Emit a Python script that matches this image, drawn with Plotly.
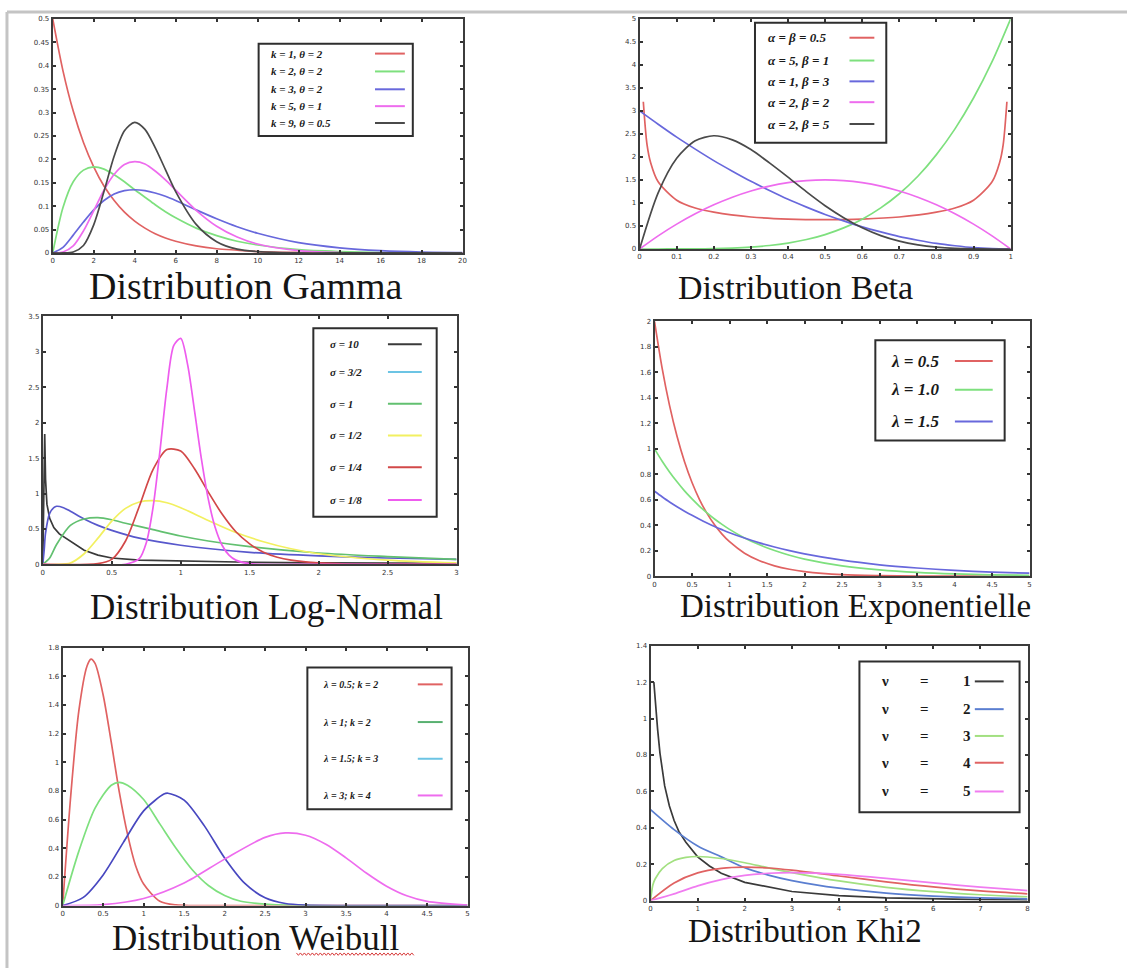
import plotly.graph_objects as go

W, H = 1131, 975

# ---------------- Gamma ----------------
gamma_x = [0, 0.5, 1, 1.5, 2, 2.5, 3, 3.5, 4, 4.5, 5, 5.5, 6, 7, 8, 9, 10, 12, 14, 16, 18, 20]
gamma_k1_t2 = [0.5, 0.389, 0.303, 0.236, 0.184, 0.143, 0.112, 0.087, 0.068, 0.053, 0.041, 0.032, 0.025, 0.015, 0.009, 0.006, 0.003, 0.001, 0, 0, 0, 0]
gamma_k2_t2 = [0, 0.097, 0.152, 0.177, 0.184, 0.179, 0.167, 0.152, 0.135, 0.119, 0.103, 0.088, 0.075, 0.053, 0.037, 0.025, 0.017, 0.007, 0.003, 0.001, 0, 0]
gamma_k3_t2 = [0, 0.012, 0.038, 0.066, 0.092, 0.112, 0.126, 0.133, 0.135, 0.133, 0.128, 0.121, 0.112, 0.092, 0.073, 0.056, 0.042, 0.022, 0.011, 0.005, 0.002, 0.001]
gamma_k5_t1 = [0, 0.002, 0.015, 0.047, 0.090, 0.134, 0.168, 0.189, 0.195, 0.190, 0.175, 0.156, 0.134, 0.091, 0.057, 0.034, 0.019, 0.005, 0.001, 0, 0, 0]
gamma_k9_t05 = [0, 0, 0.002, 0.016, 0.060, 0.131, 0.207, 0.261, 0.279, 0.264, 0.225, 0.178, 0.131, 0.061, 0.024, 0.008, 0.003, 0, 0, 0, 0, 0]
gamma_labels = ["k = 1, θ = 2", "k = 2, θ = 2", "k = 3, θ = 2", "k = 5, θ = 1", "k = 9, θ = 0.5"]
gamma_xticks = [0, 2, 4, 6, 8, 10, 12, 14, 16, 18, 20]
gamma_yticks = [0, 0.05, 0.1, 0.15, 0.2, 0.25, 0.3, 0.35, 0.4, 0.45, 0.5]

# ---------------- Beta ----------------
beta_x_arcsine = [0.01, 0.02, 0.03, 0.05, 0.1, 0.15, 0.2, 0.3, 0.4, 0.5, 0.6, 0.7, 0.8, 0.85, 0.9, 0.95, 0.97, 0.98, 0.99]
beta_a05_b05 = [3.20, 2.27, 1.87, 1.46, 1.06, 0.89, 0.80, 0.695, 0.65, 0.637, 0.65, 0.695, 0.80, 0.89, 1.06, 1.46, 1.87, 2.27, 3.20]
beta_x = [0, 0.05, 0.1, 0.15, 0.2, 0.25, 0.3, 0.35, 0.4, 0.45, 0.5, 0.55, 0.6, 0.65, 0.7, 0.75, 0.8, 0.85, 0.9, 0.95, 1]
beta_a5_b1 = [0, 0, 0.0005, 0.0025, 0.008, 0.02, 0.041, 0.075, 0.128, 0.205, 0.313, 0.458, 0.648, 0.893, 1.20, 1.58, 2.05, 2.61, 3.28, 4.07, 5.0]
beta_a1_b3 = [3.0, 2.71, 2.43, 2.17, 1.92, 1.69, 1.47, 1.27, 1.08, 0.91, 0.75, 0.61, 0.48, 0.37, 0.27, 0.19, 0.12, 0.07, 0.03, 0.008, 0]
beta_a2_b2 = [0, 0.285, 0.54, 0.765, 0.96, 1.125, 1.26, 1.365, 1.44, 1.485, 1.5, 1.485, 1.44, 1.365, 1.26, 1.125, 0.96, 0.765, 0.54, 0.285, 0]
beta_a2_b5 = [0, 1.22, 1.97, 2.35, 2.46, 2.37, 2.16, 1.87, 1.56, 1.24, 0.94, 0.68, 0.46, 0.29, 0.17, 0.09, 0.04, 0.013, 0.003, 0, 0]
beta_labels = ["α = β = 0.5", "α = 5, β = 1", "α = 1, β = 3", "α = 2, β = 2", "α = 2, β = 5"]
beta_xticks = [0, 0.1, 0.2, 0.3, 0.4, 0.5, 0.6, 0.7, 0.8, 0.9, 1]
beta_yticks = [0, 0.5, 1, 1.5, 2, 2.5, 3, 3.5, 4, 4.5, 5]

# ---------------- Log-Normal ----------------
ln_s10_x = [0, 0.005, 0.01, 0.014, 0.02, 0.03, 0.05, 0.08, 0.12, 0.2, 0.3, 0.4, 0.5, 0.7, 1.0, 1.5, 2.0, 2.5, 3.0]
ln_s10_y = [0, 1.0, 1.7, 1.84, 1.2, 0.85, 0.65, 0.52, 0.43, 0.33, 0.2, 0.13, 0.09, 0.06, 0.045, 0.03, 0.02, 0.015, 0.013]
ln_s32_x = [0, 0.01, 0.02, 0.05, 0.08, 0.1, 0.15, 0.2, 0.3, 0.4, 0.5, 0.7, 1.0, 1.5, 2.0, 2.5, 3.0]
ln_s32_y = [0, 0.2, 0.44, 0.72, 0.80, 0.82, 0.80, 0.75, 0.64, 0.55, 0.48, 0.37, 0.27, 0.17, 0.12, 0.09, 0.07]
ln_s1_x = [0, 0.05, 0.1, 0.2, 0.3, 0.4, 0.5, 0.6, 0.8, 1.0, 1.2, 1.5, 2.0, 2.5, 3.0]
ln_s1_y = [0, 0.09, 0.28, 0.55, 0.64, 0.66, 0.63, 0.58, 0.49, 0.40, 0.33, 0.25, 0.16, 0.11, 0.07]
ln_s12_x = [0, 0.1, 0.2, 0.3, 0.4, 0.5, 0.6, 0.7, 0.8, 0.9, 1.0, 1.2, 1.4, 1.6, 1.8, 2.0, 2.5, 3.0]
ln_s12_y = [0, 0, 0.02, 0.15, 0.37, 0.61, 0.79, 0.88, 0.90, 0.87, 0.80, 0.62, 0.45, 0.32, 0.22, 0.15, 0.06, 0.02]
ln_s14_x = [0, 0.4, 0.5, 0.6, 0.7, 0.8, 0.9, 1.0, 1.1, 1.2, 1.3, 1.4, 1.5, 1.6, 1.7, 1.8, 2.0, 2.2, 2.5, 3.0]
ln_s14_y = [0, 0.01, 0.07, 0.33, 0.82, 1.34, 1.62, 1.60, 1.35, 1.02, 0.71, 0.46, 0.29, 0.17, 0.10, 0.06, 0.02, 0.005, 0, 0]
ln_s18_x = [0, 0.6, 0.7, 0.75, 0.8, 0.85, 0.9, 0.95, 1.0, 1.05, 1.1, 1.15, 1.2, 1.25, 1.3, 1.35, 1.4, 1.5, 2.0, 3.0]
ln_s18_y = [0, 0.002, 0.08, 0.30, 0.81, 1.61, 2.49, 3.09, 3.19, 2.82, 2.17, 1.49, 0.92, 0.52, 0.27, 0.13, 0.06, 0.01, 0, 0]
lognormal_labels = ["σ = 10", "σ = 3/2", "σ = 1", "σ = 1/2", "σ = 1/4", "σ = 1/8"]
lognormal_xticks = [0, 0.5, 1, 1.5, 2, 2.5, 3]
lognormal_yticks = [0, 0.5, 1, 1.5, 2, 2.5, 3, 3.5]

# ---------------- Exponentielle ----------------
expo_x = [0, 0.1, 0.2, 0.3, 0.4, 0.5, 0.6, 0.7, 0.8, 0.9, 1.0, 1.2, 1.4, 1.6, 1.8, 2.0, 2.5, 3.0, 3.5, 4.0, 4.5, 5.0]
expo_l05 = [2.0, 1.637, 1.341, 1.098, 0.899, 0.736, 0.602, 0.493, 0.404, 0.331, 0.271, 0.181, 0.122, 0.082, 0.055, 0.037, 0.013, 0.005, 0.002, 0.001, 0, 0]
expo_l10 = [1.0, 0.905, 0.819, 0.741, 0.670, 0.607, 0.549, 0.497, 0.449, 0.407, 0.368, 0.301, 0.247, 0.202, 0.165, 0.135, 0.082, 0.050, 0.030, 0.018, 0.011, 0.007]
expo_l15 = [0.667, 0.624, 0.583, 0.546, 0.511, 0.478, 0.447, 0.418, 0.391, 0.366, 0.342, 0.300, 0.262, 0.230, 0.201, 0.176, 0.126, 0.090, 0.065, 0.046, 0.033, 0.024]
expo_labels = ["λ = 0.5", "λ = 1.0", "λ = 1.5"]
expo_xticks = [0, 0.5, 1, 1.5, 2, 2.5, 3, 3.5, 4, 4.5, 5]
expo_yticks = [0, 0.2, 0.4, 0.6, 0.8, 1, 1.2, 1.4, 1.6, 1.8, 2]

# ---------------- Weibull ----------------
wb1_x = [0, 0.1, 0.2, 0.3, 0.35, 0.4, 0.5, 0.6, 0.7, 0.8, 0.9, 1.0, 1.2, 1.4, 1.6, 2.0, 5.0]
wb1_y = [0, 0.77, 1.36, 1.67, 1.72, 1.69, 1.47, 1.14, 0.79, 0.50, 0.28, 0.15, 0.03, 0.004, 0, 0, 0]
wb2_x = [0, 0.2, 0.4, 0.6, 0.7, 0.8, 1.0, 1.2, 1.4, 1.6, 1.8, 2.0, 2.2, 2.5, 3.0, 5.0]
wb2_y = [0, 0.38, 0.68, 0.84, 0.86, 0.84, 0.74, 0.57, 0.40, 0.25, 0.14, 0.07, 0.03, 0.01, 0, 0]
wb3_x = [0, 0.25, 0.5, 0.75, 1.0, 1.25, 1.3, 1.5, 1.75, 2.0, 2.25, 2.5, 2.75, 3.0, 3.5, 5.0]
wb3_y = [0, 0.055, 0.214, 0.441, 0.661, 0.778, 0.784, 0.736, 0.556, 0.332, 0.154, 0.054, 0.014, 0.003, 0, 0]
wb4_x = [0, 0.5, 1.0, 1.5, 2.0, 2.5, 2.75, 3.0, 3.25, 3.5, 3.75, 4.0, 4.25, 4.5, 5.0]
wb4_y = [0, 0.006, 0.049, 0.157, 0.324, 0.476, 0.507, 0.491, 0.428, 0.333, 0.227, 0.135, 0.068, 0.029, 0.003]
weibull_labels = ["λ = 0.5; k = 2", "λ = 1; k = 2", "λ = 1.5; k = 3", "λ = 3; k = 4"]
weibull_xticks = [0, 0.5, 1, 1.5, 2, 2.5, 3, 3.5, 4, 4.5, 5]
weibull_yticks = [0, 0.2, 0.4, 0.6, 0.8, 1, 1.2, 1.4, 1.6, 1.8]

# ---------------- Khi2 ----------------
khi1_x = [0.07, 0.1, 0.15, 0.2, 0.25, 0.3, 0.4, 0.5, 0.6, 0.75, 1, 1.25, 1.5, 2, 3, 4, 5, 6, 7, 8]
khi1_y = [1.2, 1.08, 0.94, 0.81, 0.71, 0.63, 0.52, 0.44, 0.38, 0.32, 0.24, 0.19, 0.15, 0.10, 0.05, 0.027, 0.015, 0.008, 0.005, 0.003]
khi2_x = [0, 0.5, 1, 1.5, 2, 2.5, 3, 4, 5, 6, 7, 8]
khi2_y = [0.5, 0.39, 0.30, 0.24, 0.18, 0.14, 0.11, 0.068, 0.041, 0.025, 0.015, 0.009]
khi3_x = [0, 0.05, 0.1, 0.25, 0.5, 0.75, 1, 1.5, 2, 2.5, 3, 4, 5, 6, 7, 8]
khi3_y = [0, 0.087, 0.12, 0.176, 0.22, 0.237, 0.242, 0.231, 0.208, 0.18, 0.154, 0.108, 0.073, 0.049, 0.032, 0.021]
khi4_x = [0, 0.5, 1, 1.5, 2, 2.5, 3, 4, 5, 6, 7, 8]
khi4_y = [0, 0.097, 0.152, 0.177, 0.184, 0.179, 0.167, 0.135, 0.103, 0.075, 0.053, 0.037]
khi5_x = [0, 0.5, 1, 1.5, 2, 2.5, 3, 3.5, 4, 5, 6, 7, 8]
khi5_y = [0, 0.037, 0.081, 0.115, 0.138, 0.150, 0.154, 0.151, 0.144, 0.122, 0.097, 0.074, 0.055]
khi2_dof = [1, 2, 3, 4, 5]
khi2_xticks = [0, 1, 2, 3, 4, 5, 6, 7, 8]
khi2_yticks = [0, 0.2, 0.4, 0.6, 0.8, 1, 1.2, 1.4]

RED, GREEN, BLUE, MAGENTA, DARK = "#e06262", "#7ee07e", "#6868dc", "#ee6cee", "#4a4a4a"

# curves drawn as straight segments (sharp spikes near the origin)
LINEAR_CURVES = (ln_s10_x, khi1_x)


def px(x):
    return x / W


def py(y):
    return 1 - y / H


# Panel layout: plot box in pixels (x0, y0, x1, y1), axis ranges, ticks, title
panels = [
    dict(box=(51, 15, 463, 251), xr=[0, 20], yr=[0, 0.5], xt=gamma_xticks, yt=gamma_yticks,
         title="Distribution Gamma", tpos=(245, 284), tsize=38,
         curves=[(gamma_x, gamma_k1_t2, RED), (gamma_x, gamma_k2_t2, GREEN), (gamma_x, gamma_k3_t2, BLUE),
                 (gamma_x, gamma_k5_t1, MAGENTA), (gamma_x, gamma_k9_t05, DARK)],
         labels=gamma_labels, lcolors=[RED, GREEN, BLUE, MAGENTA, DARK],
         lbox=(258, 40, 413, 133), rows=[50, 68, 86, 103, 120], tx=268, lx=(375, 405), lsize=11),
    dict(box=(641, 15, 1014, 247), xr=[0, 1], yr=[0, 5], xt=beta_xticks, yt=beta_yticks,
         title="Distribution Beta", tpos=(798, 286), tsize=34,
         curves=[(beta_x_arcsine, beta_a05_b05, RED), (beta_x, beta_a5_b1, GREEN), (beta_x, beta_a1_b3, BLUE),
                 (beta_x, beta_a2_b2, MAGENTA), (beta_x, beta_a2_b5, DARK)],
         labels=beta_labels, lcolors=[RED, GREEN, BLUE, MAGENTA, DARK],
         lbox=(757, 19, 889, 140), rows=[34, 57, 78, 99, 121], tx=768, lx=(852, 877), lsize=13),
    dict(box=(41, 315, 457, 565), xr=[0, 3], yr=[0, 3.5], xt=lognormal_xticks, yt=lognormal_yticks,
         title="Distribution Log-Normal", tpos=(266, 608), tsize=35,
         curves=[(ln_s10_x, ln_s10_y, "#3a3a3a"), (ln_s32_x, ln_s32_y, "#5858cc"), (ln_s1_x, ln_s1_y, "#62c070"),
                 (ln_s12_x, ln_s12_y, "#f2f060"), (ln_s14_x, ln_s14_y, "#d24848"), (ln_s18_x, ln_s18_y, "#ee5cee")],
         labels=lognormal_labels, lcolors=["#3a3a3a", "#6cc4e4", "#62c070", "#f2f060", "#d24848", "#ee5cee"],
         lbox=(313, 327, 437, 517), rows=[343, 371, 403, 435, 467, 500], tx=328, lx=(388, 422), lsize=11),
    dict(box=(656, 320, 1033, 577), xr=[0, 5], yr=[0, 2], xt=expo_xticks, yt=expo_yticks,
         title="Distribution Exponentielle", tpos=(858, 607), tsize=33,
         curves=[(expo_x, expo_l05, RED), (expo_x, expo_l10, GREEN), (expo_x, expo_l15, BLUE)],
         labels=expo_labels, lcolors=[RED, GREEN, BLUE],
         lbox=(878, 339, 1008, 440), rows=[360, 389, 421], tx=892, lx=(958, 996), lsize=17),
    dict(box=(61, 649, 468, 909), xr=[0, 5], yr=[0, 1.8], xt=weibull_xticks, yt=weibull_yticks,
         title="Distribution Weibull", tpos=(255, 942), tsize=35,
         curves=[(wb1_x, wb1_y, RED), (wb2_x, wb2_y, GREEN), (wb3_x, wb3_y, "#4848c0"), (wb4_x, wb4_y, MAGENTA)],
         labels=weibull_labels, lcolors=[RED, "#58b070", "#6cc4e4", MAGENTA],
         lbox=(307, 669, 452, 812), rows=[686, 724, 761, 798], tx=321, lx=(418, 443), lsize=10),
    dict(box=(652, 647, 1031, 904), xr=[0, 8], yr=[0, 1.4], xt=khi2_xticks, yt=khi2_yticks,
         title="Distribution Khi2", tpos=(807, 935), tsize=33,
         curves=[(khi1_x, khi1_y, "#3a3a3a"), (khi2_x, khi2_y, "#5a7ed0"), (khi3_x, khi3_y, "#a2e080"),
                 (khi4_x, khi4_y, RED), (khi5_x, khi5_y, "#f07cf0")],
         labels=None, lcolors=["#3a3a3a", "#5a7ed0", "#a2e080", RED, "#f07cf0"],
         lbox=(862, 663, 1023, 815), rows=[683, 711, 738, 765, 794], tx=None, lx=(978, 1007), lsize=15),
]

fig = go.Figure()
layout = dict(width=W, height=H, margin=dict(l=0, r=0, t=0, b=0),
              paper_bgcolor="white", plot_bgcolor="white", showlegend=False)
shapes, annotations = [], []

for i, p in enumerate(panels, start=1):
    sfx = "" if i == 1 else str(i)
    x0, y0, x1, y1 = p["box"]
    common = dict(ticks="inside", ticklen=3, tickwidth=2, tickcolor="#333",
                  showline=True, linecolor="#3c3c3c", linewidth=2, mirror="allticks",
                  showgrid=False, zeroline=False, fixedrange=True,
                  tickfont=dict(family="DejaVu Sans", size=7, color="#333"))
    layout["xaxis" + sfx] = dict(domain=[px(x0), px(x1)], range=p["xr"], tickvals=p["xt"],
                                 ticktext=[f"{t:g}" for t in p["xt"]], anchor="y" + sfx, **common)
    layout["yaxis" + sfx] = dict(domain=[py(y1), py(y0)], range=p["yr"], tickvals=p["yt"],
                                 ticktext=[f"{t:g}" for t in p["yt"]], anchor="x" + sfx, **common)

    names = p["labels"] if p["labels"] else [f"ν = {d}" for d in khi2_dof]
    for (cx, cy, col), nm in zip(p["curves"], names):
        shape = "linear" if any(cx is c for c in LINEAR_CURVES) else "spline"
        fig.add_trace(go.Scatter(x=cx, y=cy, mode="lines", name=nm,
                                 line=dict(color=col, width=1.7, shape=shape, smoothing=0.8),
                                 xaxis="x" + sfx, yaxis="y" + sfx, hoverinfo="skip"))

    # title under the plot
    tx, ty = p["tpos"]
    annotations.append(dict(x=px(tx), y=py(ty), xref="paper", yref="paper", text=p["title"],
                            showarrow=False, xanchor="center", yanchor="middle",
                            font=dict(family="Liberation Serif", size=p["tsize"], color="#151515")))

    # framed legend with line samples on the right
    bx0, by0, bx1, by1 = p["lbox"]
    shapes.append(dict(type="rect", xref="paper", yref="paper", x0=px(bx0), x1=px(bx1),
                       y0=py(by1), y1=py(by0), line=dict(color="#2e2e2e", width=2),
                       fillcolor="white", layer="above"))
    lx0, lx1 = p["lx"]
    for k, ry in enumerate(p["rows"]):
        shapes.append(dict(type="line", xref="paper", yref="paper", x0=px(lx0), x1=px(lx1),
                           y0=py(ry), y1=py(ry), line=dict(color=p["lcolors"][k], width=2), layer="above"))
        fnt = dict(family="Liberation Serif", size=p["lsize"], color="#1a1a1a")
        if p["labels"]:
            annotations.append(dict(x=px(p["tx"]), y=py(ry), xref="paper", yref="paper",
                                    text="<b><i>" + p["labels"][k] + "</i></b>", showarrow=False,
                                    xanchor="left", yanchor="middle", font=fnt))
        else:
            for txt, cxp, anc in (("ν", 888, "center"), ("=", 927, "center"), (str(khi2_dof[k]), 976, "right")):
                annotations.append(dict(x=px(cxp), y=py(ry), xref="paper", yref="paper",
                                        text="<b>" + txt + "</b>", showarrow=False,
                                        xanchor=anc, yanchor="middle", font=fnt))

# outer page frame (top and left edges)
shapes.append(dict(type="line", xref="paper", yref="paper", x0=px(5), x1=1, y0=py(8), y1=py(8),
                   line=dict(color="#c4c4c4", width=3)))
shapes.append(dict(type="line", xref="paper", yref="paper", x0=px(5), x1=px(5), y0=py(8), y1=py(972),
                   line=dict(color="#c4c4c4", width=3)))

# wavy spell-check underline beneath "Weibull"
pts = []
for j, xx in enumerate(range(296, 416, 2)):
    yy = 958 + (1.2 if j % 2 else -1.2)
    pts.append(f"{px(xx):.5f},{py(yy):.5f}")
shapes.append(dict(type="path", xref="paper", yref="paper", path="M " + " L ".join(pts),
                   line=dict(color="#d83a3a", width=1)))

layout["shapes"] = shapes
layout["annotations"] = annotations
fig.update_layout(**layout)
fig.write_html("out.html")
